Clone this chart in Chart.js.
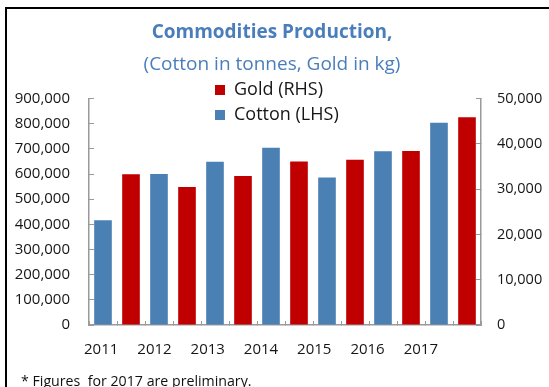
<!DOCTYPE html>
<html>
<head>
<meta charset="utf-8">
<title>Commodities Production</title>
<script src="https://cdn.jsdelivr.net/npm/chart.js@4.4.1/dist/chart.umd.min.js"></script>
<style>
  html, body { margin: 0; padding: 0; background: #fff; }
  #wrap { position: relative; width: 549px; height: 387px; overflow: hidden; }
  #chart { position: absolute; left: 0; top: 0; }
  #frame {
    position: absolute; left: 5px; top: 7px; width: 600px; height: 400px;
    border-left: 2px solid #000; border-top: 2px solid #000; pointer-events: none;
  }
  #note {
    position: absolute; left: 21px; top: 371px; white-space: pre;
    font: 14.2px 'Open Sans', sans-serif; color: #111;
  }
</style>
</head>
<body>
<div id="wrap">
  <canvas id="chart" width="549" height="387"></canvas>
  <div id="frame"></div>
  <div id="note">* Figures  for 2017 are preliminary.</div>
</div>
<script>
// production per year: cotton in tonnes (left axis), gold in kg (right axis)
const YEARS = ['2011', '2012', '2013', '2014', '2015', '2016', '2017'];
const COTTON = [416000, 600000, 649000, 705000, 586000, 691000, 804000];
const GOLD = [33300, 30500, 32900, 36100, 36500, 38400, 45900];

const LEFT_MAX = 900000, LEFT_STEP = 100000;
const RIGHT_MAX = 50000, RIGHT_STEP = 10000;

const BLUE = '#4A80B4';
const RED = '#C00000';
const AXIS = '#9A9A9A';
const INK = '#161616';
const FONT = "'Open Sans', sans-serif";

Chart.defaults.font.family = FONT;
Chart.defaults.color = INK;

// every bar gets its own slot: cotton then gold for each year
const slots = YEARS.flatMap(y => [y, y]);
const cottonSlots = COTTON.flatMap(v => [v, null]);
const goldSlots = GOLD.flatMap(v => [null, v]);

const fmt = v => Number(v).toLocaleString('en-US');

// legend floats over the plot, just left of centre
const legendSpot = {
  id: 'legendSpot',
  afterLayout(chart) {
    const lg = chart.legend;
    lg.left = 208;
    lg.right = 380;
    lg.width = lg.right - lg.left;
    lg.top = 74;
    lg.bottom = 140;
    lg.height = lg.bottom - lg.top;
  }
};

new Chart(document.getElementById('chart'), {
  type: 'bar',
  data: {
    labels: slots,
    datasets: [
      {
        label: 'Gold (RHS)',
        data: goldSlots,
        backgroundColor: RED,
        borderWidth: 0,
        yAxisID: 'y1',
        grouped: false,
        barPercentage: 0.63,
        categoryPercentage: 1
      },
      {
        label: 'Cotton (LHS)',
        data: cottonSlots,
        backgroundColor: BLUE,
        borderWidth: 0,
        yAxisID: 'y',
        grouped: false,
        barPercentage: 0.63,
        categoryPercentage: 1
      }
    ]
  },
  options: {
    responsive: false,
    animation: false,
    layout: { padding: { left: 0, right: 5, top: 0, bottom: 0 } },
    plugins: {
      title: {
        display: true,
        text: 'Commodities Production,',
        color: '#4A7EBB',
        font: { size: 19, weight: 'bold' },
        padding: { top: 21, bottom: 9 }
      },
      subtitle: {
        display: true,
        text: '(Cotton in tonnes, Gold in kg)',
        color: '#4A7EBB',
        font: { size: 19 },
        padding: { top: 0, bottom: 23 }
      },
      legend: {
        position: 'right',
        align: 'start',
        maxWidth: 1,
        labels: {
          boxWidth: 10,
          boxHeight: 10,
          padding: 7,
          color: INK,
          font: { size: 18 }
        }
      },
      tooltip: { enabled: false }
    },
    scales: {
      x: {
        type: 'category',
        position: 'bottom',
        weight: 0,
        afterFit: s => { s.height = 0; },
        ticks: { display: false },
        grid: { offset: true, drawOnChartArea: false, tickLength: -4, color: AXIS, lineWidth: 1 },
        border: { color: AXIS, width: 1.5 }
      },
      // year labels sit on their own linear axis under the bars
      xYear: {
        type: 'linear',
        position: 'bottom',
        weight: 1,
        offset: false,
        min: -0.229,
        max: 7.13,
        afterFit: s => { s.height = 62; },
        afterBuildTicks: s => { s.ticks = YEARS.map((_, i) => ({ value: i })); },
        ticks: { callback: v => YEARS[v], padding: 16, font: { size: 15 }, autoSkip: false, maxRotation: 0 },
        grid: { display: false, drawTicks: false },
        border: { display: false }
      },
      y: {
        position: 'left',
        min: 0,
        max: LEFT_MAX,
        afterFit: s => { s.width = 89; },
        ticks: { stepSize: LEFT_STEP, callback: fmt, padding: 24, font: { size: 15 } },
        grid: { drawOnChartArea: false, tickLength: -5, color: AXIS },
        border: { color: AXIS, width: 1.5 }
      },
      y1: {
        position: 'right',
        min: 0,
        max: RIGHT_MAX,
        afterFit: s => { s.width = 62; },
        ticks: { stepSize: RIGHT_STEP, callback: fmt, padding: 21, font: { size: 14.5 } },
        grid: { drawOnChartArea: false, tickLength: -5, color: AXIS },
        border: { color: AXIS, width: 1.5 }
      }
    }
  },
  plugins: [legendSpot]
});
</script>
</body>
</html>
